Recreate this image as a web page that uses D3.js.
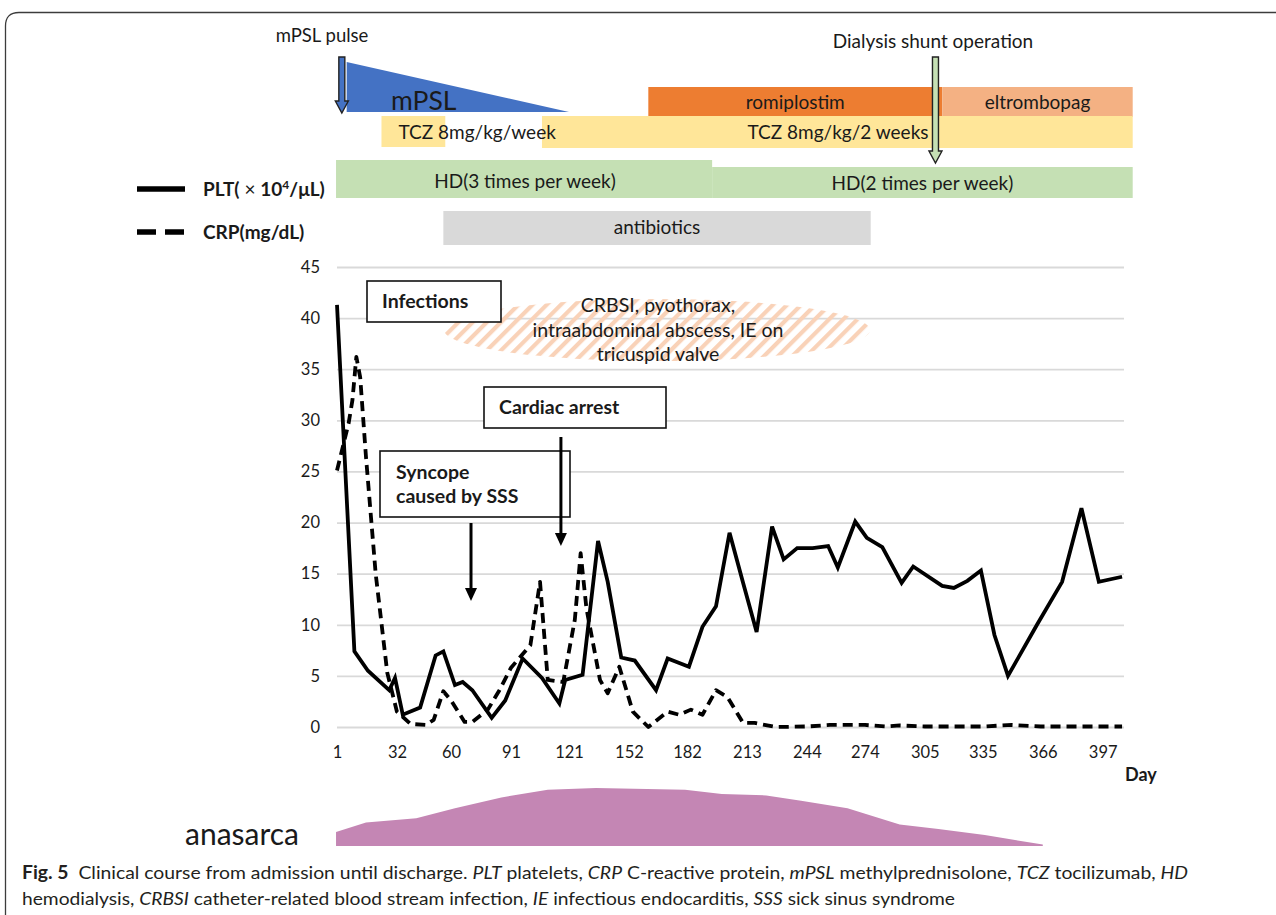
<!DOCTYPE html>
<html>
<head>
<meta charset="utf-8">
<script src="https://cdn.jsdelivr.net/npm/d3@7"></script>
<style>
  html, body { margin: 0; padding: 0; background: #fff; }
  svg { display: block; }
  text { font-family: Lato, "Noto Sans", sans-serif; fill: #1a1a1a; }
</style>
</head>
<body>
<svg id="chart" width="1276" height="915"></svg>
<script>
// ---------------- DATA ----------------
const xTickLabels = [1, 32, 60, 91, 121, 152, 182, 213, 244, 274, 305, 335, 366, 397];
const yTickLabels = [0, 5, 10, 15, 20, 25, 30, 35, 40, 45];

const pltDays = [1, 10, 17, 28, 31, 35, 44, 52, 56, 62, 66, 71, 81, 88, 97, 107, 116, 119, 128, 136, 141, 148, 155, 166, 172, 183, 190, 197, 204, 211, 218, 226, 232, 239, 247, 255, 260, 269, 275, 283, 293, 299, 314, 320, 327, 334, 341, 348, 363, 376, 386, 395, 407];
const pltValues = [41.3, 7.4, 5.5, 3.6, 4.8, 1.2, 1.9, 7.0, 7.4, 4.1, 4.4, 3.6, 0.9, 2.6, 6.7, 4.8, 2.3, 4.6, 5.1, 18.2, 14.2, 6.8, 6.5, 3.6, 6.7, 5.9, 9.8, 11.8, 19.0, 14.1, 9.3, 19.6, 16.4, 17.5, 17.5, 17.7, 15.6, 20.1, 18.5, 17.6, 14.1, 15.7, 13.8, 13.6, 14.3, 15.3, 9.0, 5.0, 10.0, 14.2, 21.4, 14.2, 14.7];

const crpDays = [1, 7, 9, 11, 13, 16, 21, 27, 32, 35, 39, 47, 51, 56, 60, 67, 71, 79, 85, 91, 101, 106, 110, 118, 124, 127, 130, 137, 141, 147, 154, 162, 172, 178, 184, 190, 197, 203, 211, 217, 228, 244, 256, 274, 285, 292, 305, 335, 350, 365, 397, 407];
const crpValues = [25.1, 29.7, 32.0, 36.2, 34.2, 26.4, 15.0, 5.3, 1.5, 1.0, 0.3, 0.2, 0.7, 3.5, 2.6, 0.5, 0.5, 1.7, 3.6, 5.8, 8.0, 14.2, 4.6, 4.4, 10.5, 17.0, 11.6, 4.6, 3.3, 5.9, 1.5, 0.0, 1.5, 1.2, 1.7, 1.2, 3.6, 2.9, 0.4, 0.4, 0.0, 0.05, 0.2, 0.2, 0.05, 0.15, 0.05, 0.05, 0.2, 0.05, 0.05, 0.05];

// treatment periods (days)
const treatmentNames = ["romiplostim", "eltrombopag", "TCZ 8mg/kg/week", "TCZ 8mg/kg/2 weeks", "HD(3 times per week)", "HD(2 times per week)", "antibiotics"];
const treatmentStart = [162, 314, 24, 107, 0.5, 195, 56];
const treatmentEnd = [314, 412.5, 57, 412.5, 195, 412.5, 277];

// mPSL taper (day, relative dose)
const mpslDays = [6, 121];
const mpslDose = [1, 0];

// one-off events (day)
const eventNames = ["mPSL pulse", "Dialysis shunt operation"];
const eventDays = [3.5, 310.5];

// clinical annotations (day of arrow)
const noteNames = ["Syncope caused by SSS", "Cardiac arrest"];
const noteDays = [70.3, 116.8];

// anasarca severity (arbitrary units)
const anasarcaDays = [0.5, 16, 42, 62, 86, 110, 135, 181, 200, 223, 241, 265, 292, 312, 336, 366];
const anasarcaValues = [14, 23.6, 27.7, 37.8, 48.6, 56.3, 58, 56.3, 52, 50.6, 45.2, 37.8, 21.6, 17, 11, 1.4];

// ---------------- DRAW ----------------
const svg = d3.select("#chart");

// frame
svg.append("path")
  .attr("d", "M5.5,1000 V26 Q5.5,12.5 19,12.5 H1300")
  .attr("fill", "none").attr("stroke", "#3c3c3c").attr("stroke-width", 1.3);

const x = d3.scaleLinear().domain([1, 408]).range([337, 1124]);
const y = d3.scaleLinear().domain([0, 45]).range([727, 267]);

// defs: hatch pattern
const defs = svg.append("defs");
const pat = defs.append("pattern").attr("id", "hatch").attr("patternUnits", "userSpaceOnUse")
  .attr("width", 10).attr("height", 10).attr("patternTransform", "rotate(45)");
pat.append("rect").attr("x", 0).attr("y", 0).attr("width", 4.2).attr("height", 10).attr("fill", "#f9d2b8");

// ---- timeline bars ----
const barColor = ["#ed7d31", "#f4b183", "#ffe699", "#ffe699", "#c5e0b4", "#c5e0b4", "#d9d9d9"];
const barTop = [87, 87, 116, 116, 160, 167, 211];
const barBottom = [117, 117, 147, 148, 198, 198, 245];
const tb = svg.append("g");
treatmentNames.forEach((n, i) => {
  tb.append("rect")
    .attr("x", x(treatmentStart[i])).attr("y", barTop[i])
    .attr("width", x(treatmentEnd[i]) - x(treatmentStart[i]))
    .attr("height", barBottom[i] - barTop[i])
    .attr("fill", barColor[i]);
});
const labelBase = [109, 109, 139, 139, 188, 190, 234];
treatmentNames.forEach((n, i) => {
  let t = tb.append("text").attr("y", labelBase[i]).attr("font-size", 19).text(n);
  if (i === 2) {
    t.attr("x", x(treatmentStart[i]) + 17).attr("text-anchor", "start");
  } else if (i === 3) {
    t.attr("x", 838).attr("text-anchor", "middle");
  } else if (i === 4) {
    t.attr("x", 525).attr("text-anchor", "middle");
  } else {
    t.attr("x", (x(treatmentStart[i]) + x(treatmentEnd[i])) / 2).attr("text-anchor", "middle");
  }
});

// mPSL taper triangle
const mpslY = d3.scaleLinear().domain([0, 1]).range([112, 62]);
svg.append("path")
  .attr("d", `M${x(mpslDays[0])},${mpslY(mpslDose[0])} L${x(mpslDays[1])},${mpslY(mpslDose[1])} L${x(mpslDays[0])},${mpslY(0)} Z`)
  .attr("fill", "#4472c4");
svg.append("text").attr("x", 391).attr("y", 110).attr("font-size", 26.5).text("mPSL");

// event arrows
function blockArrow(cx, y0, y1, fill) {
  const sw = 3, hw = 6.5, hh = 12;
  const d = `M${cx - sw},${y0} H${cx + sw} V${y1 - hh} H${cx + hw} L${cx},${y1} L${cx - hw},${y1 - hh} H${cx - sw} Z`;
  svg.append("path").attr("d", d).attr("fill", fill).attr("stroke", "#222").attr("stroke-width", 1.4);
}
blockArrow(x(eventDays[0]), 57, 113, "#4472c4");
blockArrow(x(eventDays[1]), 57, 163, "#c5e0b4");
svg.append("text").attr("x", 322).attr("y", 42).attr("text-anchor", "middle").attr("font-size", 18.5).text(eventNames[0]);
svg.append("text").attr("x", 933).attr("y", 48).attr("text-anchor", "middle").attr("font-size", 19).text(eventNames[1]);

// legend
const lg = svg.append("g");
lg.append("line").attr("x1", 137).attr("x2", 185).attr("y1", 189).attr("y2", 189)
  .attr("stroke", "#000").attr("stroke-width", 5.5);
lg.append("line").attr("x1", 137).attr("x2", 186).attr("y1", 232).attr("y2", 232)
  .attr("stroke", "#000").attr("stroke-width", 5.5).attr("stroke-dasharray", "19,9");
const lt1 = lg.append("text").attr("x", 203).attr("y", 196).attr("font-size", 19).attr("font-weight", "bold");
lt1.append("tspan").text("PLT(");
lt1.append("tspan").attr("font-weight", "normal").text(" × ");
lt1.append("tspan").text("10");
lt1.append("tspan").attr("dy", -7).attr("font-size", 12).text("4");
lt1.append("tspan").attr("dy", 7).text("/μL)");
lt1.attr("xml:space", "preserve");
lg.append("text").attr("x", 203).attr("y", 239).attr("font-size", 19).attr("font-weight", "bold").text("CRP(mg/dL)");

// ---- plot ----
const yAxis = d3.axisLeft(y).tickValues(yTickLabels).tickSize(-(1124 - 337)).tickPadding(17).tickFormat(d3.format("d"));
const gy = svg.append("g").attr("transform", "translate(337,0)").call(yAxis);
gy.select(".domain").remove();
gy.selectAll("line").attr("stroke", "#d9d9d9").attr("stroke-width", 1.8);
gy.selectAll("text").attr("font-size", 16.5).attr("fill", "#262626").style("font-family", "Lato, 'Noto Sans', sans-serif");

const xAxis = d3.axisBottom(x).tickValues(xTickLabels).tickSize(0).tickPadding(19).tickFormat(d3.format("d"));
const gx = svg.append("g").attr("transform", "translate(0,727)").call(xAxis);
gx.select(".domain").remove();
gx.selectAll("text").attr("font-size", 16.5).attr("fill", "#262626").style("font-family", "Lato, 'Noto Sans', sans-serif");
svg.append("text").attr("x", 1125).attr("y", 781).attr("font-size", 18).attr("font-weight", "bold").text("Day");

// infections hatch region
svg.append("ellipse").attr("cx", 657).attr("cy", 330).attr("rx", 213).attr("ry", 31)
  .attr("fill", "url(#hatch)");
const infText = ["CRBSI, pyothorax,", "intraabdominal abscess, IE on", "tricuspid valve"];
infText.forEach((t, i) => {
  svg.append("text").attr("x", 658).attr("y", 312 + i * 24.5).attr("text-anchor", "middle").attr("font-size", 19.5).text(t);
});

// boxes
function box(x0, y0, w, h) {
  svg.append("rect").attr("x", x0).attr("y", y0).attr("width", w).attr("height", h)
    .attr("fill", "#fff").attr("stroke", "#111").attr("stroke-width", 1.6);
}
box(367, 281, 134, 41);
svg.append("text").attr("x", 382).attr("y", 308).attr("font-size", 19.5).attr("font-weight", "bold").text("Infections");
box(484, 387, 182, 41);
svg.append("text").attr("x", 499).attr("y", 414).attr("font-size", 19.5).attr("font-weight", "bold").text(noteNames[1]);
box(380, 451, 190, 66);
svg.append("text").attr("x", 396).attr("y", 479).attr("font-size", 19.5).attr("font-weight", "bold").text("Syncope");
svg.append("text").attr("x", 396).attr("y", 503).attr("font-size", 19.5).attr("font-weight", "bold").text("caused by SSS");

// annotation arrows
function thinArrow(cx, y0, y1) {
  svg.append("line").attr("x1", cx).attr("x2", cx).attr("y1", y0).attr("y2", y1 - 10)
    .attr("stroke", "#000").attr("stroke-width", 3);
  svg.append("path").attr("d", `M${cx - 6},${y1 - 13} L${cx + 6},${y1 - 13} L${cx},${y1} Z`).attr("fill", "#000");
}
thinArrow(x(noteDays[0]), 523, 601);
thinArrow(x(noteDays[1]), 437, 546);

// lines
const line = d3.line().x(d => x(d[0])).y(d => y(d[1]));
svg.append("path").datum(crpDays.map((d, i) => [d, crpValues[i]]))
  .attr("d", line).attr("fill", "none").attr("stroke", "#000").attr("stroke-width", 3.8)
  .attr("stroke-dasharray", "10,6").attr("stroke-linejoin", "round");
svg.append("path").datum(pltDays.map((d, i) => [d, pltValues[i]]))
  .attr("d", line).attr("fill", "none").attr("stroke", "#000").attr("stroke-width", 3.8)
  .attr("stroke-linejoin", "miter");

// anasarca
const ya = d3.scaleLinear().domain([0, 60]).range([846, 786]);
const area = d3.area().x(d => x(d[0])).y0(ya(0)).y1(d => ya(d[1]));
svg.append("path").datum(anasarcaDays.map((d, i) => [d, anasarcaValues[i]]))
  .attr("d", area).attr("fill", "#c486b4");
svg.append("text").attr("x", 185).attr("y", 845).attr("font-size", 30).text("anasarca");

// caption
const cap1 = svg.append("text").attr("x", 22).attr("y", 879).attr("font-size", 18)
  .attr("textLength", 1166).attr("lengthAdjust", "spacingAndGlyphs").style("fill", "#231f20");
[["Fig. 5", "b"], ["  Clinical course from admission until discharge. ", ""], ["PLT", "i"], [" platelets, ", ""], ["CRP", "i"],
 [" C-reactive protein, ", ""], ["mPSL", "i"], [" methylprednisolone, ", ""], ["TCZ", "i"], [" tocilizumab, ", ""], ["HD", "i"]]
  .forEach(([t, s]) => {
    const sp = cap1.append("tspan").text(t);
    if (s === "b") sp.attr("font-weight", "bold");
    if (s === "i") sp.attr("font-style", "italic");
  });
cap1.attr("xml:space", "preserve");
const cap2 = svg.append("text").attr("x", 22).attr("y", 905).attr("font-size", 18)
  .attr("textLength", 933).attr("lengthAdjust", "spacingAndGlyphs").style("fill", "#231f20");
[["hemodialysis, ", ""], ["CRBSI", "i"], [" catheter-related blood stream infection, ", ""], ["IE", "i"],
 [" infectious endocarditis, ", ""], ["SSS", "i"], [" sick sinus syndrome", ""]]
  .forEach(([t, s]) => {
    const sp = cap2.append("tspan").text(t);
    if (s === "i") sp.attr("font-style", "italic");
  });
cap2.attr("xml:space", "preserve");
</script>
</body>
</html>
